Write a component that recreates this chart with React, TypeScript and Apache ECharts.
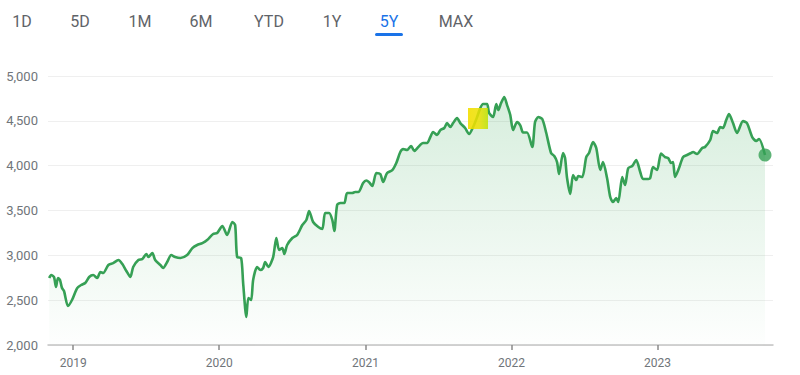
import React, { useEffect, useRef } from "react";
import * as echarts from "echarts";

// ---- data ----
const dates = [
  "2018-11-02","2018-11-07","2018-11-14","2018-11-19","2018-11-24","2018-11-29","2018-12-04","2018-12-09","2018-12-19","2018-12-29",
  "2019-01-11","2019-01-21","2019-01-31","2019-02-10","2019-02-20","2019-03-02","2019-03-10","2019-03-17","2019-03-30","2019-04-11",
  "2019-04-24","2019-05-04","2019-05-14","2019-05-24","2019-05-31","2019-06-13","2019-06-23","2019-07-03","2019-07-08","2019-07-18",
  "2019-07-25","2019-08-07","2019-08-14","2019-08-24","2019-09-03","2019-09-13","2019-09-26","2019-10-13","2019-10-26","2019-11-07",
  "2019-11-20","2019-12-02","2019-12-17","2019-12-27","2020-01-09","2020-01-21","2020-02-03","2020-02-10","2020-02-15","2020-02-25",
  "2020-03-01","2020-03-09","2020-03-14","2020-03-21","2020-03-26","2020-04-05","2020-04-13","2020-04-20","2020-04-25","2020-05-03",
  "2020-05-15","2020-05-23","2020-05-30","2020-06-07","2020-06-12","2020-06-19","2020-07-02","2020-07-14","2020-07-27","2020-08-06",
  "2020-08-13","2020-08-23","2020-09-05","2020-09-15","2020-09-22","2020-10-02","2020-10-10","2020-10-15","2020-10-22","2020-10-30",
  "2020-11-09","2020-11-16","2020-11-29","2020-12-06","2020-12-14","2020-12-26","2021-01-03","2021-01-10","2021-01-18","2021-01-28",
  "2021-02-07","2021-02-14","2021-02-24","2021-03-09","2021-03-19","2021-03-29","2021-04-05","2021-04-15","2021-04-25","2021-05-03",
  "2021-05-13","2021-05-25","2021-06-04","2021-06-12","2021-06-19","2021-06-29","2021-07-07","2021-07-17","2021-07-24","2021-08-01",
  "2021-08-08","2021-08-18","2021-08-26","2021-09-07","2021-09-17","2021-09-27","2021-10-07","2021-10-15","2021-10-22","2021-11-01",
  "2021-11-06","2021-11-16","2021-11-24","2021-11-29","2021-12-06","2021-12-14","2021-12-21","2021-12-29","2022-01-05","2022-01-15",
  "2022-01-23","2022-01-30","2022-02-09","2022-02-22","2022-03-01","2022-03-09","2022-03-19","2022-03-29","2022-04-10","2022-04-18",
  "2022-04-25","2022-04-30","2022-05-10","2022-05-15","2022-05-20","2022-05-28","2022-06-04","2022-06-12","2022-06-17","2022-06-27",
  "2022-07-07","2022-07-14","2022-07-24","2022-08-01","2022-08-11","2022-08-18","2022-08-28","2022-09-05","2022-09-12","2022-09-20",
  "2022-09-25","2022-10-05","2022-10-12","2022-10-20","2022-10-30","2022-11-09","2022-11-19","2022-11-26","2022-12-09","2022-12-14",
  "2022-12-21","2022-12-31","2023-01-10","2023-01-20","2023-01-28","2023-02-04","2023-02-09","2023-02-14","2023-02-24","2023-03-06",
  "2023-03-16","2023-03-26","2023-03-31","2023-04-10","2023-04-23","2023-04-30","2023-05-13","2023-05-20","2023-05-30","2023-06-07",
  "2023-06-14","2023-06-22","2023-06-29","2023-07-09","2023-07-19","2023-08-03","2023-08-13","2023-08-26","2023-09-05","2023-09-12",
  "2023-09-27",
];
const values = [
  2747,2780,2758,2647,2747,2725,2635,2602,2435,2502,
  2635,2669,2691,2758,2780,2747,2814,2803,2892,2914,
  2948,2903,2825,2758,2870,2948,2959,3015,2981,3026,
  2948,2892,2859,2925,3003,2981,2970,3003,3081,3115,
  3137,3171,3238,3249,3327,3227,3372,3338,2981,2970,
  2691,2312,2524,2502,2725,2870,2836,2859,2925,2870,
  2981,3193,3059,3081,3015,3115,3193,3227,3338,3394,
  3494,3372,3316,3294,3472,3472,3394,3271,3561,3583,
  3583,3695,3695,3706,3706,3806,3835,3815,3773,3918,
  3907,3818,3918,3951,4030,4152,4185,4174,4219,4163,
  4208,4252,4252,4319,4375,4342,4397,4420,4475,4431,
  4475,4531,4475,4420,4353,4431,4542,4642,4687,4687,
  4587,4542,4687,4620,4698,4765,4676,4565,4397,4486,
  4450,4370,4370,4208,4486,4542,4520,4364,4141,4107,
  4040,3907,4141,4085,3862,3684,3896,3840,3884,3873,
  4096,4141,4264,4197,3951,4040,3862,3650,3594,3639,
  3594,3873,3784,3973,3996,4063,3929,3851,3851,3862,
  3985,3951,4135,4096,4085,4029,4040,3873,3973,4096,
  4119,4141,4152,4130,4197,4208,4286,4386,4364,4431,
  4420,4509,4576,4475,4364,4497,4475,4319,4275,4297,
  4119,
];
const yearTicks = ["2019-01-01", "2020-01-01", "2021-01-01", "2022-01-01", "2023-01-01"];
const axisStart = "2018-10-30";
const axisEnd = "2023-10-17";
const yMin = 2000;
const yMax = 5000;
const yStep = 500;
const tabs = ["1D", "5D", "1M", "6M", "YTD", "1Y", "5Y", "MAX"];
const activeTab = "5Y";

// ---- layout (not data) ----
const tabCenters = [22, 80, 140, 201, 269, 332, 389, 456];
const GREEN = "#36a055";

const toTs = (s: string) => {
  const [y, m, d] = s.split("-").map(Number);
  return Date.UTC(y, m - 1, d);
};

export default function App() {
  const ref = useRef<HTMLDivElement>(null);
  useEffect(() => {
    if (!ref.current) return;
    const chart = echarts.init(ref.current, null, { renderer: "svg" });
    const lineData = dates.map((d, i) => [toTs(d), values[i]]);
    const last = lineData[lineData.length - 1];
    const yearTs = yearTicks.map(toTs);

    const tabGraphics: any[] = tabs.map((t, i) => ({
      type: "text",
      x: tabCenters[i],
      y: 21,
      style: {
        text: t,
        fill: t === activeTab ? "#1a73e8" : "#5f6368",
        font: "16px Roboto",
        textAlign: "center",
        textVerticalAlign: "middle",
      },
    }));
    const activeIdx = tabs.indexOf(activeTab);
    tabGraphics.push({
      type: "rect",
      shape: { x: tabCenters[activeIdx] - 14, y: 33, width: 28, height: 3, r: 1.5 },
      style: { fill: "#1a73e8" },
    });
    tabGraphics.push({
      type: "rect",
      z: 100,
      shape: { x: 468, y: 108, width: 20, height: 21 },
      style: {
        fill: new echarts.graphic.LinearGradient(0, 0, 1, 0, [
          { offset: 0, color: "rgba(243,222,0,0.9)" },
          { offset: 0.55, color: "rgba(236,224,0,0.85)" },
          { offset: 1, color: "rgba(190,226,0,0.85)" },
        ]),
      },
    });

    chart.setOption({
      animation: false,
      backgroundColor: "#ffffff",
      grid: { left: 48, right: 27, top: 76, bottom: 30 },
      xAxis: {
        type: "value",
        min: toTs(axisStart),
        max: toTs(axisEnd),
        axisLine: { show: true, lineStyle: { color: "#c4c4c4", width: 1.5 } },
        axisTick: {
          show: true,
          customValues: yearTs,
          length: 5,
          lineStyle: { color: "#8a8a8a", width: 1.5 },
        },
        axisLabel: {
          customValues: yearTs,
          formatter: (v: number) => String(new Date(v).getUTCFullYear()),
          color: "#70757a",
          fontSize: 12,
          fontFamily: "Roboto",
          margin: 12,
          showMinLabel: true,
          showMaxLabel: true,
        },
        splitLine: { show: false },
      },
      yAxis: {
        type: "value",
        min: yMin,
        max: yMax,
        interval: yStep,
        axisLine: { show: false },
        axisTick: { show: false },
        axisLabel: {
          formatter: (v: number) => v.toLocaleString("en-US"),
          color: "#70757a",
          fontSize: 13,
          fontFamily: "Roboto",
          margin: 10,
        },
        splitLine: { lineStyle: { color: "#efefef", width: 1 } },
      },
      series: [
        {
          type: "line",
          data: lineData,
          showSymbol: false,
          symbol: "none",
          smooth: 0.25,
          lineStyle: { color: GREEN, width: 2.6 },
          areaStyle: {
            origin: "start",
            color: new echarts.graphic.LinearGradient(0, 0, 0, 1, [
              { offset: 0, color: "rgba(52,168,83,0.28)" },
              { offset: 1, color: "rgba(52,168,83,0.01)" },
            ]),
          },
          z: 3,
        },
        {
          type: "scatter",
          data: [last],
          symbolSize: 13,
          itemStyle: { color: GREEN },
          z: 4,
        },
      ],
      graphic: tabGraphics,
    });
    return () => chart.dispose();
  }, []);
  return (
    <div
      ref={ref}
      style={{ position: "absolute", left: 0, top: 0, width: 800, height: 375, background: "#fff" }}
    />
  );
}
